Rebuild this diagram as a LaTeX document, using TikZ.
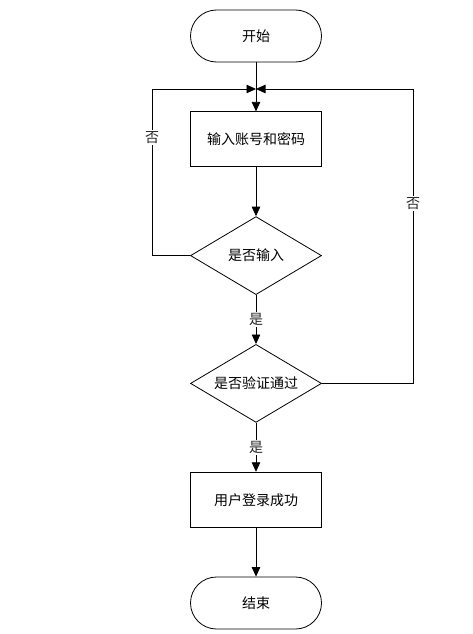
\documentclass[tikz,border=0pt]{standalone}
\usepackage{fontspec}
\newfontfamily\cjk{Noto Sans CJK SC}
\usetikzlibrary{shapes.geometric}
\usetikzlibrary{positioning}
\usetikzlibrary{arrows.meta}

\begin{document}
\begin{tikzpicture}[x=1pt,y=-1pt,line width=0.8pt,
        font=\cjk\fontsize{14}{16}\selectfont,
        terminal/.style={draw,rectangle,rounded corners=26pt,minimum width=131pt,minimum height=52pt},
        process/.style={draw,rectangle,minimum width=131pt,minimum height=55pt},
        decision/.style={draw,diamond,aspect=1.68,minimum width=131pt,minimum height=78pt,inner sep=0pt},
        answer/.style={fill=white,inner sep=1.5pt,text=black!85},
        flow/.style={-{Triangle[length=9.5pt,width=8.5pt]}}]
   \useasboundingbox (0,0) rectangle (473,634);
   \node[terminal] (start) at (256,36) {开始};
   \node[process] (input) [below=49pt of start] {输入账号和密码};
   \node[decision] (entered) [below=49pt of input] {是否输入};
   \node[decision] (verified) [below=49pt of entered] {是否验证通过};
   \node[process] (success) [below=49pt of verified] {用户登录成功};
   \node[terminal] (stop) [below=49pt of success] {结束};
   \coordinate (join) at (256,89);
   \coordinate (lt) at (152,89);
   \coordinate (rt) at (413,89);
   \draw (start) -- (join);
   \draw[flow] (join) -- (input);
   \draw[flow] (input) -- (entered);
   \draw[flow] (entered) -- node[answer] {是} (verified);
   \draw[flow] (verified) -- node[answer] {是} (success);
   \draw[flow] (success) -- (stop);
   % back to the input box
   \draw[flow] (entered.west) -- (entered.west -| lt) -- node[answer,pos=0.71] {否} (lt) -- (join);
   \draw[flow] (verified.east) -- (verified.east -| rt) -- node[answer,pos=0.61] {否} (rt) -- (join);
\end{tikzpicture}
\end{document}
